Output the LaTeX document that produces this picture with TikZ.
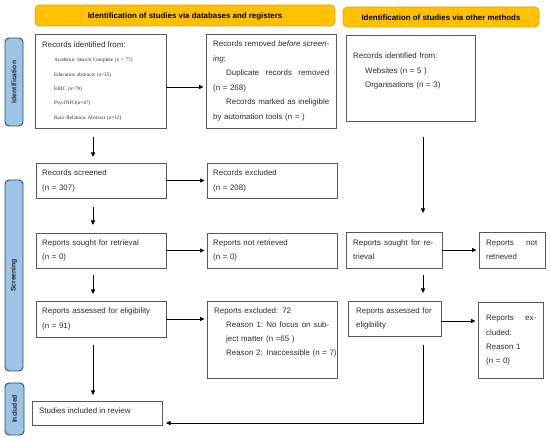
\documentclass[tikz,border=0pt]{standalone}
\usepackage{fontspec}
\setmainfont{Liberation Sans}
\newfontfamily\smallserif{Liberation Serif}
\usetikzlibrary{arrows.meta,calc}
\definecolor{hdr}{HTML}{FFC000}
\definecolor{hdrline}{HTML}{E2A900}
\definecolor{side}{HTML}{9DC3E6}
\definecolor{sideline}{HTML}{2E4A66}
\definecolor{boxline}{HTML}{595959}
\definecolor{txtc}{HTML}{2B2B2B}
\begin{document}
\begin{tikzpicture}[x=1pt,y=-1pt,
  box/.style={draw=boxline,line width=0.9pt,anchor=north west,inner sep=0pt,outer sep=0pt},
  hdrbox/.style={draw=hdrline,fill=hdr,line width=0.6pt,rounded corners=4pt,anchor=north west,inner sep=0pt,outer sep=0pt},
  sidebox/.style={draw=sideline,fill=side,line width=0.9pt,rounded corners=4pt,anchor=north west,inner sep=0pt,outer sep=0pt},
  txt/.style={text=txtc,inner sep=0pt,anchor=base west,font=\fontsize{7.9}{14.5}\selectfont},
  hdrtxt/.style={text=black,inner sep=0pt,font=\fontsize{7.9}{9}\selectfont\bfseries},
  sidetxt/.style={text=black!85,inner sep=0pt,rotate=90,font=\fontsize{6.8}{8}\selectfont\bfseries},
  arr/.style={draw=black,line width=0.8pt,-{Triangle[length=4.5pt,width=4pt]}}
]
\useasboundingbox (0,0) rectangle (550,438);

% headers
\node[hdrbox,minimum width=300pt,minimum height=21pt] (H1) at (35,5) {};
\node[hdrtxt] (H1t) at ($(H1.center)+(0,0.5)$) {Identification of studies via databases and registers};
\node[hdrbox,minimum width=196pt,minimum height=20pt] (H2) at (343,7) {};
\node[hdrtxt] (H2t) at ($(H2.center)+(0,0.5)$) {Identification of studies via other methods};

% side labels
\node[sidebox,minimum width=18pt,minimum height=88pt] (S1) at (5,38) {};
\node[sidetxt] (S1t) at (S1.center) {Identification};
\node[sidebox,minimum width=18pt,minimum height=191pt] (S2) at (5,180) {};
\node[sidetxt] (S2t) at (S2.center) {Screening};
\node[sidebox,minimum width=19pt,minimum height=52pt] (S3) at (5,383) {};
\node[sidetxt] (S3t) at (S3.center) {Included};

% boxes
\node[box,minimum width=131pt,minimum height=94pt] (A) at (35,34) {};
\node[box,minimum width=130pt,minimum height=94pt] (B) at (206,34) {};
\node[box,minimum width=129pt,minimum height=86pt] (C) at (346,35) {};
\node[box,minimum width=130pt,minimum height=35pt] (Scr) at (36,163) {};
\node[box,minimum width=130pt,minimum height=35pt] (Exc) at (207,163) {};
\node[box,minimum width=130pt,minimum height=35pt] (Sou) at (36,233) {};
\node[box,minimum width=130pt,minimum height=35pt] (NR) at (207,233) {};
\node[box,minimum width=96pt,minimum height=36pt] (OS) at (346,232) {};
\node[box,minimum width=66pt,minimum height=36pt] (ONR) at (479,232) {};
\node[box,minimum width=130pt,minimum height=36pt] (Ass) at (36,301) {};
\node[box,minimum width=130pt,minimum height=77pt] (Ex) at (207,301) {};
\node[box,minimum width=93pt,minimum height=35pt] (OA) at (348,301) {};
\node[box,minimum width=65pt,minimum height=76pt] (OE) at (478,302) {};
\node[box,minimum width=130pt,minimum height=24pt] (Inc) at (32,401) {};

% texts
\node[txt] (At) at (42,48) {Records identified from:};
\node[txt,text width=110pt,font=\smallserif\fontsize{5.2}{14.3}\selectfont] (As) at (54,62)
 {Academic Search Complete (n = 77)\\ Education abstracts (n=35)\\ ERIC (n=79)\\ PsycINFO(n=47)\\ Race Relations Abstract (n=12)};
\node[txt,text width=116pt] (Bt) at (213,47)
 {\hbox to 116pt{Records\hfill removed\hfill \textit{before}\hfill \textit{screen-}}\\
  \textit{ing}:\\
  \hspace*{13pt}\hbox to 103pt{Duplicate\hfill records\hfill removed}\\
  (n = 268)\\
  \hspace*{13pt}\hbox to 103pt{Records\hfill marked\hfill as\hfill ineligible}\\
  by automation tools (n = )};
\node[txt,text width=115pt] (Ct) at (353,59)
 {Records identified from:\\ \hspace*{12pt}Websites (n = 5 )\\ \hspace*{12pt}Organisations (n = 3)};
\node[txt,text width=120pt] (Scrt) at (42,176) {Records screened\\ (n = 307)};
\node[txt,text width=120pt] (Exct) at (213,176) {Records excluded\\ (n = 208)};
\node[txt,text width=120pt] (Sout) at (42,245.5) {Reports sought for retrieval\\ (n = 0)};
\node[txt,text width=120pt] (NRt) at (213,245.5) {Reports not retrieved\\ (n = 0)};
\node[txt,text width=80pt] (OSt) at (353,245.5) {\hbox to 80pt{Reports\hfill sought\hfill for\hfill re-}\\ trieval};
\node[txt,text width=51pt] (ONRt) at (486,245.5) {\hbox to 51pt{Reports\hfill not}\\ retrieved};
\node[txt,text width=120pt] (Asst) at (42,314) {Reports assessed for eligibility\\ (n = 91)};
\node[txt,text width=130pt,font=\fontsize{7.9}{14}\selectfont] (Ext) at (214,314)
 {Reports excluded: 72\\
  \hspace*{12pt}\hbox to 103pt{Reason\hfill 1:\hfill No\hfill focus\hfill on\hfill sub-}\\
  \hspace*{12pt}ject matter (n =65 )\\
  \hspace*{12pt}\hbox{Reason 2: Inaccessible (n = 7)}};
\node[txt,text width=82pt,font=\fontsize{7.9}{14}\selectfont] (OAt) at (356,314) {Reports assessed for\\ eligibility};
\node[txt,text width=50pt,font=\fontsize{7.9}{14.3}\selectfont] (OEt) at (486,321)
 {\hbox to 50pt{Reports\hfill ex-}\\ cluded:\\ Reason 1\\ (n = 0)};
\node[txt] (Inct) at (39,414) {Studies included in review};

% helper coordinates
\coordinate (xL) at (93,0);
\coordinate (xR) at (423,0);
\coordinate (yAB) at (0,87);
\coordinate (yOA) at (0,321);
\coordinate (yInc) at (0,423);

% connectors
\draw[arr,shorten >=2.5pt] (A.east |- yAB) -- (B.west |- yAB);
\draw[arr,shorten >=2.5pt] (Scr.east) -- (Scr.east -| Exc.west);
\draw[arr,shorten >=2.5pt] (Sou.east) -- (Sou.east -| NR.west);
\draw[arr,shorten >=2.5pt] (Ass.east) -- (Ass.east -| Ex.west);
\draw[arr,shorten >=2.5pt] (OS.east) -- (OS.east -| ONR.west);
\draw[arr,shorten >=2.5pt] (OA.east |- yOA) -- (OE.west |- yOA);

\draw[arr,shorten <=9pt,shorten >=6pt] (A.south -| xL) -- (Scr.north -| xL);
\draw[arr,shorten <=9pt,shorten >=8pt] (Scr.south -| xL) -- (Sou.north -| xL);
\draw[arr,shorten <=7pt,shorten >=7pt] (Sou.south -| xL) -- (Ass.north -| xL);
\draw[arr,shorten <=8pt,shorten >=6pt] (Ass.south -| xL) -- (Inc.north -| xL);

\draw[arr,shorten <=16pt,shorten >=19pt] (C.south -| xR) -- (OS.north -| xR);
\draw[arr,shorten <=7pt,shorten >=8pt] (OS.south -| xR) -- (OA.north -| xR);
\draw[arr,shorten <=9pt,shorten >=4pt] (OA.south -| xR) -- (xR |- yInc) -- (Inc.east |- yInc);
\end{tikzpicture}
\end{document}
